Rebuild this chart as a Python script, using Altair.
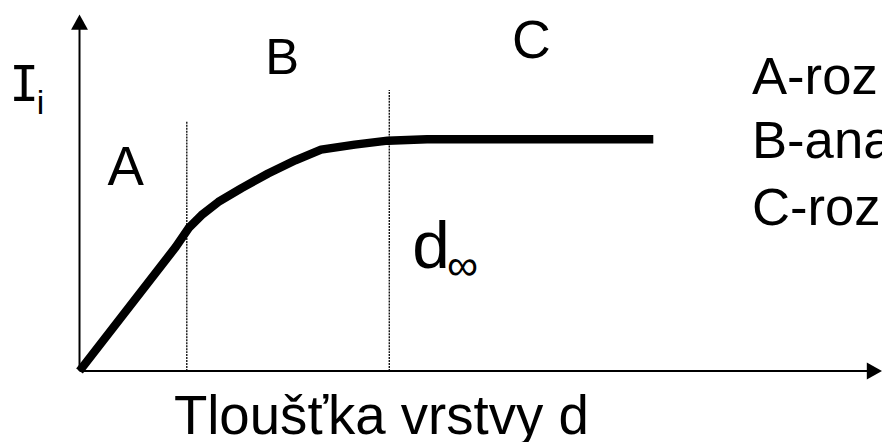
import altair as alt
import pandas as pd

# ---- data (abstract units: d = layer thickness, I = intensity) ----
curve_d = [0, 12.0, 13.6, 15.2, 17.3, 20.2, 23.5, 26.9, 30.1, 34.3, 38.4, 43.3, 71.5]
curve_I = [0, 34.8, 40.1, 43.7, 47.4, 51.3, 55.4, 59.1, 62.1, 63.5, 64.6, 65.0, 65.0]

bound_d = [13.37, 38.6]
bound_top = [70.2, 78.8]

region_text = ["A", "B", "C"]
region_d = [5.75, 25.25, 56.3]
region_I = [52.1, 83.3, 87.7]

legend_text = ["A-roz", "B-ana", "C-roz"]
legend_d = [83.8, 83.8, 83.8]
legend_I = [77.7, 59.6, 40.9]

title_text = ["Tloušťka vrstvy d"]
title_d = [11.76]
title_I = [-17.8]

dinf_text = ["d", "\u221e"]
dinf_d = [41.46, 47.75]
dinf_I = [29.0, 25.6]

ylab_text = ["I", "i"]
ylab_d = [-6.9, -4.85]
ylab_I = [75.8, 72.1]

axis_end = [100, 100]

# ---- scales: map data so the origin sits where the reference puts it ----
W, H = 880, 434
X_PER_UNIT, Y_PER_UNIT = 8.08, 3.59
X0, Y0 = 72, 364  # origin inside chart box
xs = alt.Scale(domain=[-X0 / X_PER_UNIT, (W - X0) / X_PER_UNIT], nice=False, zero=False)
ys = alt.Scale(domain=[(Y0 - H) / Y_PER_UNIT, Y0 / Y_PER_UNIT], nice=False, zero=False)
FONT = "Liberation Sans"

def X(f):
    return alt.X(f, type="quantitative", scale=xs, axis=None)

def Y(f):
    return alt.Y(f, type="quantitative", scale=ys, axis=None)

curve_df = pd.DataFrame({"d": curve_d, "I": curve_I})
curve = alt.Chart(curve_df).mark_line(color="black", strokeWidth=8.5, strokeCap="butt", strokeJoin="round").encode(
    x=X("d"), y=Y("I"), order="d:Q")

bound_df = pd.DataFrame({"d": bound_d, "top": bound_top, "zero": [0, 0]})
bounds = alt.Chart(bound_df).mark_rule(color="black", strokeWidth=1.3, strokeDash=[2, 1]).encode(
    x=X("d"), y=Y("zero"), y2="top")

axes_df = pd.DataFrame({"x1": [0, 0], "y1": [0, 0], "x2": [axis_end[0] * 0.985, 0], "y2": [0, axis_end[1] * 0.97]})
axes = alt.Chart(axes_df).mark_rule(color="black", strokeWidth=2).encode(
    x=X("x1"), y=Y("y1"), x2="x2", y2="y2")

yarrow = alt.Chart(pd.DataFrame({"d": [0], "I": [axis_end[1]]})).mark_point(
    shape="M0,0L-1,1.8L1,1.8Z", size=289, filled=True, color="black", opacity=1).encode(x=X("d"), y=Y("I"))
xarrow = alt.Chart(pd.DataFrame({"d": [axis_end[0]], "I": [0]})).mark_point(
    shape="M0,0L-1.8,-1L-1.8,1Z", size=289, filled=True, color="black", opacity=1).encode(x=X("d"), y=Y("I"))

def text_layer(texts, ds, Is, size, align="left", font=FONT):
    df = pd.DataFrame({"t": texts, "d": ds, "I": Is})
    return alt.Chart(df).mark_text(font=font, fontSize=size, align=align, baseline="alphabetic", color="black").encode(
        x=X("d"), y=Y("I"), text="t:N")

lab_A = text_layer(region_text[:1], region_d[:1], region_I[:1], 55, "center")
lab_B = text_layer(region_text[1:2], region_d[1:2], region_I[1:2], 51, "center")
lab_C = text_layer(region_text[2:], region_d[2:], region_I[2:], 54, "center")
legend = text_layer(legend_text, legend_d, legend_I, 53, "left")
title = text_layer(title_text, title_d, title_I, 55, "left")
lab_d = text_layer(dinf_text[:1], dinf_d[:1], dinf_I[:1], 68, "left")
lab_inf = text_layer(dinf_text[1:], dinf_d[1:], dinf_I[1:], 44, "center")
lab_I = text_layer(ylab_text[:1], ylab_d[:1], ylab_I[:1], 50, "center", font="DejaVu Sans Mono")
lab_i = text_layer(ylab_text[1:], ylab_d[1:], ylab_I[1:], 34, "center")

chart = alt.layer(
    axes, yarrow, xarrow, bounds, curve,
    lab_A, lab_B, lab_C, legend, title, lab_d, lab_inf, lab_I, lab_i,
).properties(
    width=W, height=H, padding=0, autosize=alt.AutoSizeParams(type="none"), background="white"
).configure_view(stroke=None)

chart.save("out.html", embed_options={"renderer": "svg", "actions": False})
